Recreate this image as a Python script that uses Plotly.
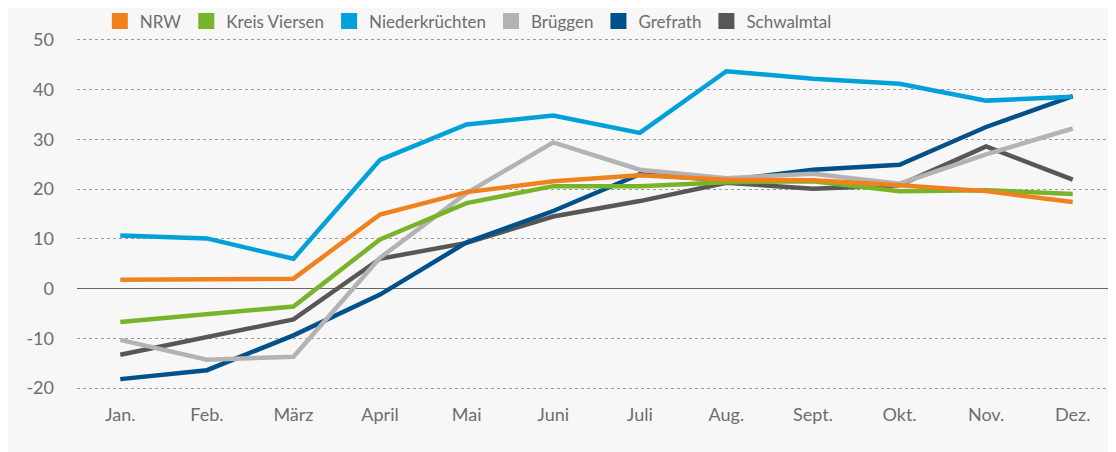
import plotly.graph_objects as go

months = ["Jan.", "Feb.", "März", "April", "Mai", "Juni", "Juli", "Aug.", "Sept.", "Okt.", "Nov.", "Dez."]

nrw = [1.8, 2.0, 2.0, 14.9, 19.4, 21.6, 22.8, 21.9, 21.8, 20.8, 19.6, 17.4]
kreis_viersen = [-6.7, -5.2, -3.6, 9.9, 17.2, 20.6, 20.6, 21.4, 21.6, 19.6, 19.8, 19.0]
niederkruechten = [10.7, 10.1, 6.0, 25.9, 33.0, 34.8, 31.3, 43.7, 42.2, 41.2, 37.8, 38.6]
brueggen = [-10.3, -14.3, -13.7, 6.2, 19.2, 29.4, 23.9, 22.2, 23.1, 21.1, 27.0, 32.2]
grefrath = [-18.2, -16.4, -9.4, -1.2, 9.3, 15.6, 23.0, 21.8, 23.9, 24.9, 32.5, 38.7]
schwalmtal = [-13.3, -9.7, -6.2, 6.0, 9.2, 14.5, 17.6, 21.3, 20.1, 20.8, 28.6, 21.9]

series_names = ["NRW", "Kreis Viersen", "Niederkrüchten", "Brüggen", "Grefrath", "Schwalmtal"]
series_values = [nrw, kreis_viersen, niederkruechten, brueggen, grefrath, schwalmtal]
series_colors = ["#f0821e", "#78b42a", "#00a0d8", "#b3b3b3", "#00508c", "#575756"]

y_ticks = [-20, -10, 0, 10, 20, 30, 40, 50]
y_tick_labels = ["-20", "-10", "0", "10", "20", "30", "40", "50"]

FONT = "Lato, Roboto, sans-serif"
TXT = "#6e6e6e"

fig = go.Figure()

# lines, drawn in reverse so NRW ends up on top
for name, vals, col in reversed(list(zip(series_names, series_values, series_colors))):
    fig.add_trace(go.Scatter(
        x=months, y=vals, mode="lines", name=name,
        line=dict(color=col, width=4.5, shape="linear"),
        showlegend=False, hoverinfo="x+y+name"))

# legend entries with square swatches
for name, col in zip(series_names, series_colors):
    fig.add_trace(go.Scatter(
        x=[None], y=[None], mode="markers", name=name,
        marker=dict(symbol="square", size=16, color=col),
        showlegend=True))

fig.update_layout(
    width=1108, height=444,
    margin=dict(l=69, r=0, t=22, b=50, autoexpand=False),
    paper_bgcolor="#f7f7f7",
    plot_bgcolor="#f7f7f7",
    font=dict(family=FONT, size=17, color=TXT),
    legend=dict(orientation="h", x=0.022, xanchor="left", y=1.023, yanchor="middle",
                bgcolor="rgba(0,0,0,0)", font=dict(family=FONT, size=17, color=TXT),
                traceorder="normal", itemclick=False),
    xaxis=dict(type="category", range=[-0.5, 11.5], showgrid=False, zeroline=False,
               showline=False, ticks="", automargin=False,
               tickfont=dict(family=FONT, size=18, color=TXT)),
    yaxis=dict(range=[-22.8, 52.0], tickvals=y_ticks, ticktext=y_tick_labels, showgrid=True,
               gridcolor="#9a9a9a", griddash="dot", gridwidth=1,
               zeroline=True, zerolinecolor="#666666", zerolinewidth=1.2,
               showline=False, ticks="", ticklabelstandoff=22, automargin=False,
               tickfont=dict(family=FONT, size=18, color=TXT)),
)

fig.write_html("out.html")
